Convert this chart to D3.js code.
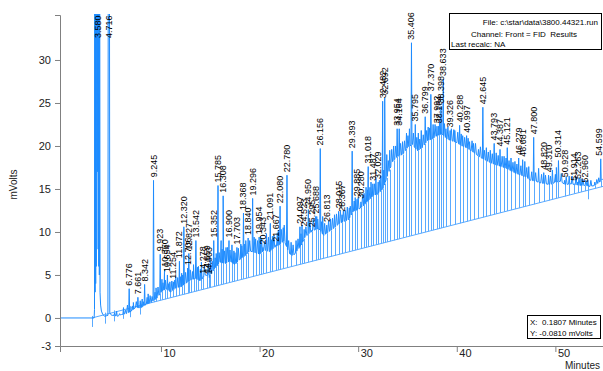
<!DOCTYPE html>
<html><head><meta charset="utf-8">
<script src="https://cdn.jsdelivr.net/npm/d3@7"></script>
<style>body{margin:0;background:#fff}svg{display:block}text{font-family:"Liberation Sans",Arial,sans-serif;white-space:pre}</style>
</head><body><svg id="c" width="603" height="371"></svg>
<script>
// ---------- data ----------
const xTicks = [10, 20, 30, 40, 50];
const xTickLabels = ["10", "20", "30", "40", "50"];
const yTicks = [-3.26, 0, 5, 10, 15, 20, 25, 30];
const yTickLabels = ["-3", "0", "5", "10", "15", "20", "25", "30"];

const peakLabels = ["3.580","4.716","6.776","7.661","8.342","9.245","9.923","10.360","10.654","11.254","11.872","12.320","12.706","12.827","13.542","14.278","14.659","14.903","15.352","15.785","16.308","16.900","17.703","18.368","18.840","19.296","19.954","20.343","21.091","21.667","22.080","22.780","24.097","24.523","24.950","25.295","25.688","26.156","26.813","28.015","28.367","29.393","29.885","30.280","31.018","31.487","32.029","32.482","32.692","33.954","34.164","35.406","35.795","36.799","37.370","37.992","38.164","38.398","38.633","39.326","40.288","40.997","42.645","43.793","44.387","45.121","46.279","46.681","47.800","48.820","49.310","50.314","50.928","51.914","52.263","52.960","54.599"];
const peakTimes = [3.580,4.716,6.776,7.661,8.342,9.245,9.923,10.360,10.654,11.254,11.872,12.320,12.706,12.827,13.542,14.278,14.659,14.903,15.352,15.785,16.308,16.900,17.703,18.368,18.840,19.296,19.954,20.343,21.091,21.667,22.080,22.780,24.097,24.523,24.950,25.295,25.688,26.156,26.813,28.015,28.367,29.393,29.885,30.280,31.018,31.487,32.029,32.482,32.692,33.954,34.164,35.406,35.795,36.799,37.370,37.992,38.164,38.398,38.633,39.326,40.288,40.997,42.645,43.793,44.387,45.121,46.279,46.681,47.800,48.820,49.310,50.314,50.928,51.914,52.263,52.960,54.599];
const peakHeights = [60,60,3.4,2.4,3.9,16.0,7.4,5.6,5.0,4.2,6.6,10.6,5.8,7.5,9.0,4.8,4.9,4.7,9.0,15.4,14.2,9.0,8.2,12.2,9.3,13.9,9.4,8.2,11.0,8.5,13.0,16.6,10.6,10.3,12.6,10.2,11.8,19.7,10.8,12.4,12.0,19.4,13.8,13.5,17.6,15.6,15.8,25.2,25.6,22.0,22.0,32.0,22.5,23.4,26.0,22.3,22.3,24.6,27.8,21.8,22.4,21.2,24.5,20.3,19.6,19.8,18.6,18.4,21.0,16.9,16.6,18.3,16.0,15.6,15.8,15.4,18.5];

// small unlabeled peaks (time, mV)
const minorTimes = [5.5,6.2,7.2,7.9,8.7,9.5,10.1,10.9,11.5,12.1,13.0,13.3,13.8,14.1,15.0,15.6,16.1,16.6,17.2,17.4,18.1,18.6,19.6,20.1,20.7,21.3,21.9,22.4,23.2,23.7,24.3,25.9,26.4,27.2,27.6,28.7,29.1,29.7,30.6,30.8,31.3,31.8,32.3,32.9,33.2,33.6,34.5,34.9,35.2,36.1,36.4,37.1,37.6,38.9,39.8,40.6,41.3,41.7,42.2,43.0,43.4,44.0,44.8,45.5,45.9,46.9,47.3,48.3,49.7,50.1,51.4,52.6,53.3,54.0];
const minorValues = [0.8,1.2,1.8,2.0,2.8,3.5,4.5,4.2,4.8,5.2,5.5,6.2,6.0,6.5,7.0,7.5,9.0,8.2,8.5,7.8,8.6,9.0,9.2,9.5,9.8,9.5,10.2,10.5,8.8,9.0,10.8,11.5,11.8,11.5,12.0,12.5,12.8,14.0,14.5,15.2,15.8,16.2,16.5,19.0,19.5,20.0,20.5,21.5,22.0,21.5,21.8,22.2,22.5,22.0,21.8,21.2,20.5,20.3,19.6,19.8,19.5,19.2,18.8,18.6,18.2,18.2,17.6,17.4,17.2,17.5,16.5,16.2,16.0,15.8];

// baseline noise wiggles (time, mV)
const noiseTimes = [5.3,5.8,6.4,6.6,7.1,7.5,7.7,8.1,8.2,8.6,8.9,9.1,9.4,9.7,10.2,10.45,10.8,11.1,11.4,11.7,12.0,12.2,12.5,12.95,13.2,13.7,14.0,14.4,14.8,15.2,15.5,15.9,16.2,16.45,16.75,17.0,17.5,17.85,18.2,18.5,19.0,19.45,19.8,20.2,20.5,20.9,21.2,21.45,21.8,22.2,22.5,22.95,23.4,23.9,24.2,24.7,25.1,25.45,25.8,26.3,26.6,27.0,27.4,27.8,28.2,28.5,28.9,29.2,29.6,30.0,30.45,30.95,31.2,31.65,32.15,32.6,33.05,33.4,33.8,34.3,34.7,35.05,35.6,35.95,36.25,36.6,36.95,37.25,37.8,38.25,38.75,39.1,39.45,39.7,40.1,40.45,40.8,41.15,41.55,41.9,42.4,42.8,43.2,43.6,44.2,44.6,45.0,45.3,45.7,46.1,46.5,47.1,47.6,48.0,48.6,49.0,49.5,50.0,50.6,51.1,51.7,52.1,52.4,52.8,53.1,53.6,54.2,54.4];
const noiseValues = [0.6,0.5,0.9,1.5,1.4,1.9,1.6,2.2,1.9,2.4,2.6,2.5,3.0,3.6,4.1,4.4,4.0,4.3,4.4,4.7,4.8,5.0,5.3,5.6,5.4,5.9,5.7,6.0,6.2,6.6,7.0,7.6,8.0,7.8,8.2,7.9,7.6,8.1,8.4,8.6,9.0,9.4,9.0,9.2,8.9,9.4,9.1,9.6,9.9,10.3,10.8,9.0,8.5,9.2,9.8,10.6,11.2,11.5,11.8,11.2,11.0,11.3,11.6,12.1,12.4,12.5,12.9,13.0,13.6,14.0,14.3,14.9,15.2,15.6,16.0,17.2,18.3,19.6,20.0,20.3,20.6,21.2,21.5,21.0,20.8,21.3,21.8,22.1,22.5,22.8,22.6,22.2,22.0,21.9,21.6,21.4,21.0,20.9,20.6,20.3,19.9,19.5,19.3,19.1,18.9,18.8,18.6,18.3,18.1,17.9,17.7,17.5,17.0,16.9,16.7,16.6,16.5,16.7,16.8,16.4,16.5,16.4,16.3,16.1,16.0,16.0,16.1,16.3];

// trace level between peaks (time, mV)
const floorTimes = [5.1,5.6,6.0,6.5,7.0,7.4,8.0,8.5,9.0,9.6,10.0,10.5,11.0,11.5,12.0,12.5,13.0,13.5,14.0,14.5,15.0,15.5,16.0,16.5,17.0,17.5,18.0,18.5,19.0,19.5,20.0,20.5,21.0,21.5,22.0,22.5,23.0,23.4,23.8,24.2,24.6,25.0,25.5,26.0,26.5,27.0,27.5,28.0,28.5,29.0,29.5,30.0,30.5,31.0,31.5,32.0,32.5,33.0,33.5,34.0,34.5,35.0,35.5,36.0,36.5,37.0,37.5,38.0,38.5,39.0,39.5,40.0,40.5,41.0,41.5,42.0,42.5,43.0,43.5,44.0,44.5,45.0,45.5,46.0,46.5,47.0,47.5,48.0,48.5,49.0,49.5,50.0,50.5,51.0,51.5,52.0,52.5,53.0,53.5,54.0,54.5,54.83];
const floorValues = [0.3,0.2,0.4,0.5,0.8,1.2,1.2,1.6,1.8,2.3,3.0,3.4,3.0,3.5,3.6,4.0,4.4,4.6,4.3,5.0,5.0,5.8,6.5,6.3,6.6,6.2,6.8,7.2,7.8,7.6,7.4,7.9,7.7,8.2,8.5,9.0,7.5,7.2,7.8,8.4,9.4,9.8,10.2,10.4,9.6,10.0,10.4,10.9,11.2,11.4,12.4,12.6,13.0,13.6,14.2,14.4,15.0,16.6,18.2,18.8,19.0,19.8,20.2,19.4,19.8,20.6,20.8,21.2,21.4,20.8,20.6,20.4,20.0,19.8,19.4,19.0,18.6,18.3,18.0,17.8,17.6,17.4,17.1,16.8,16.6,16.4,16.0,15.9,15.7,15.6,15.5,15.8,15.9,15.5,15.6,15.5,15.4,15.4,15.3,15.4,15.8,16.2];

// solvent region trace (time, mV)
const solventTimes = [-0.24,3.22,3.26,3.29,3.32,3.35,3.38,3.41,3.44,3.47,3.50,3.55,3.60,3.63,3.66,3.69,3.72,3.75,3.78,3.82,3.88,3.96,4.10,4.30,4.62,4.67,4.70,4.73,4.76,4.81,5.0];
const solventValues = [0,0,1,60,3,60,4,60,6,60,60,17,60,8,60,6,60,5,60,3,1.5,0.8,0.4,0.2,0.3,60,40,60,60,0.6,0.3];

// integration baseline and peak-group markers
const baseTimes = [3.0, 54.83];
const baseValues = [0, 15.3];
const markerTimes = [3.0, 4.3, 5.2, 6.2, 6.85, 7.9, 53.3];

const infoLines = ["File: c:\\star\\data\\3800.44321.run", "Channel: Front = FID  Results", "Last recalc: NA"];
const cursorLines = ["X:  0.1807 Minutes", "Y: -0.0810 mVolts"];

// ---------- drawing ----------
const svg = d3.select("#c");
const L = 60, R = 603, T = 15, B = 346;
const x = d3.scaleLinear().domain([-0.24, 54.83]).range([L, R]);
const y = d3.scaleLinear().domain([-3.26, 35.23]).range([B, T]);
const floorF = d3.scaleLinear().domain(floorTimes).range(floorValues).clamp(true);
const baseF = d3.scaleLinear().domain(baseTimes).range(baseValues);

const BLUE = "#1e8cff", LBLUE = "#5aaaff";

svg.append("defs").append("clipPath").attr("id", "pc")
  .append("rect").attr("x", L).attr("y", T - 1).attr("width", R - L).attr("height", B - T + 1);

const g = svg.append("g").attr("clip-path", "url(#pc)");

// build trace
const spikes = [];
peakTimes.forEach((t, i) => { if (t > floorTimes[0]) spikes.push([t, peakHeights[i], 0.05]); });
minorTimes.forEach((t, i) => spikes.push([t, minorValues[i], 0.06]));
noiseTimes.forEach((t, i) => spikes.push([t, noiseValues[i], 0.09]));
let inner = floorTimes.map((t, i) => [t, floorValues[i]])
  .filter(p => !spikes.some(s => Math.abs(s[0] - p[0]) < s[2] * 1.2));
spikes.forEach(s => {
  inner.push([s[0] - s[2], floorF(s[0] - s[2])]);
  inner.push([s[0], s[1]]);
  inner.push([s[0] + s[2], floorF(s[0] + s[2])]);
});
inner.sort((a, b) => a[0] - b[0]);
const trace = solventTimes.map((t, i) => [t, solventValues[i]]).concat(inner);

// baseline
g.append("line")
  .attr("x1", x(baseTimes[0])).attr("y1", y(baseValues[0]))
  .attr("x2", x(baseTimes[1])).attr("y2", y(baseValues[1]))
  .attr("stroke", LBLUE).attr("stroke-width", 1);

// drop lines
const dropTimes = peakTimes.concat(minorTimes).filter(t => t >= 6);
dropTimes.forEach(t => {
  g.append("line")
    .attr("x1", Math.round(x(t)) + 0.5).attr("x2", Math.round(x(t)) + 0.5)
    .attr("y1", y(baseF(t))).attr("y2", y(floorF(t)))
    .attr("stroke", LBLUE).attr("stroke-width", 1);
});
markerTimes.forEach(t => {
  g.append("line")
    .attr("x1", Math.round(x(t)) + 0.5).attr("x2", Math.round(x(t)) + 0.5)
    .attr("y1", y(baseF(t)) - 2).attr("y2", y(baseF(t)) + 9)
    .attr("stroke", LBLUE).attr("stroke-width", 1);
});

// trace
g.append("path").datum(trace)
  .attr("fill", "none").attr("stroke", BLUE).attr("stroke-width", 1)
  .attr("d", d3.line().x(d => x(d[0])).y(d => y(d[1])));

// peak labels
const lab = svg.append("g").attr("font-size", "9px").attr("fill", "#000");
peakTimes.forEach((t, i) => {
  const h = peakHeights[i];
  const yy = h > 35 ? 38 : y(h) - 3;
  lab.append("text")
    .attr("transform", `translate(${Math.min(x(t) + 3, 601.5)},${yy}) rotate(-90)`)
    .attr("text-anchor", "start")
    .text(peakLabels[i]);
});

// axes
const AX = "#808080";
const xa = svg.append("g").attr("transform", `translate(0,${B})`)
  .call(d3.axisBottom(x).tickValues(xTicks).tickFormat((d, i) => xTickLabels[i]).tickSize(6).tickSizeOuter(6));
xa.selectAll("path,line").attr("stroke", AX);
xa.selectAll("text").attr("text-anchor", "start").attr("x", 2).attr("y", 3).attr("dy", "0.71em")
  .attr("font-size", "11px").attr("fill", "#222").attr("font-family", "Liberation Sans, Arial, sans-serif");

const ya = svg.append("g").attr("transform", `translate(${L},0)`)
  .call(d3.axisLeft(y).tickValues(yTicks).tickFormat((d, i) => yTickLabels[i]).tickSize(5).tickSizeOuter(5).tickPadding(4));
ya.selectAll("path,line").attr("stroke", AX);
ya.selectAll("text").attr("font-size", "11px").attr("fill", "#222").attr("font-family", "Liberation Sans, Arial, sans-serif");

svg.append("text").attr("x", R - 3).attr("y", 369).attr("text-anchor", "end")
  .attr("font-size", "10px").attr("fill", "#222").text("Minutes");
svg.append("text").attr("transform", `translate(17,${(T + B) / 2 + 4}) rotate(-90)`)
  .attr("text-anchor", "middle").attr("font-size", "10px").attr("fill", "#222").text("mVolts");

// info box
svg.append("rect").attr("x", 449.5).attr("y", 13.5).attr("width", 152).attr("height", 36)
  .attr("fill", "#fff").attr("stroke", "#000");
const infoX = [598, 524, 451], infoAnchor = ["end", "middle", "start"], infoY = [25, 37, 47];
infoLines.forEach((s, i) => svg.append("text").attr("x", infoX[i]).attr("y", infoY[i])
  .attr("text-anchor", infoAnchor[i]).attr("font-size", "8px").attr("fill", "#000").text(s));

// cursor box
svg.append("rect").attr("x", 527.5).attr("y", 315.5).attr("width", 73).attr("height", 23)
  .attr("fill", "#fff").attr("stroke", "#000");
cursorLines.forEach((s, i) => svg.append("text").attr("x", 530).attr("y", 325 + i * 11)
  .attr("font-size", "8px").attr("fill", "#000").text(s));
</script></body></html>
